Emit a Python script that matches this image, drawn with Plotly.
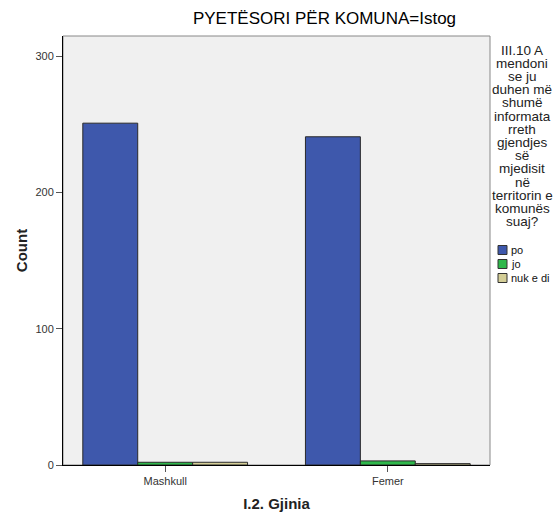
import plotly.graph_objects as go

categories = ["Mashkull", "Femer"]
series_names = ["po", "jo", "nuk e di"]
values_po = [251, 241]
values_jo = [2, 3]
values_nuk = [2, 1]
y_ticks = [0, 100, 200, 300]
legend_title_lines = ["III.10 A", "mendoni", "se ju", "duhen më", "shumë", "informata", "rreth",
                      "gjendjes", "së", "mjedisit", "në", "territorin e", "komunës", "suaj?"]

colors = ["#3E58AC", "#2EB84B", "#D4CE97"]
series_values = [values_po, values_jo, values_nuk]

W, H = 553, 513
ML, MR, MT, MB = 63, 63, 36, 48
PW, PH = W - ML - MR, H - MT - MB


def px_x(x):
    return (x - ML) / PW


def px_y(y):
    return 1 - (y - MT) / PH


fig = go.Figure()
for name, vals, col in zip(series_names, series_values, colors):
    fig.add_trace(go.Bar(
        x=categories, y=vals, name=name, showlegend=False,
        marker=dict(color=col, line=dict(color="#2a2a2a", width=1)),
    ))

annotations = []
for i, line in enumerate(legend_title_lines):
    annotations.append(dict(text=line, xref="paper", yref="paper",
                            x=px_x(522), y=px_y(50 + i * 13.2), xanchor="center", yanchor="middle",
                            showarrow=False, font=dict(size=13.5, color="#222222")))

shapes = [dict(type="rect", xref="paper", yref="paper", x0=0, x1=1, y0=0, y1=1,
               line=dict(color="#888888", width=1), fillcolor="rgba(0,0,0,0)", layer="below")]
for i, (name, col) in enumerate(zip(series_names, colors)):
    cy = 250 + i * 14
    shapes.append(dict(type="rect", xref="paper", yref="paper",
                       x0=px_x(498), x1=px_x(507), y0=px_y(cy - 4.5), y1=px_y(cy + 4.5),
                       fillcolor=col, line=dict(color="#333333", width=1)))
    annotations.append(dict(text=name, xref="paper", yref="paper", x=px_x(509), y=px_y(cy),
                            xanchor="left", yanchor="middle", showarrow=False,
                            font=dict(size=11, color="#111111")))

fig.update_layout(
    width=W, height=H,
    margin=dict(l=ML, r=MR, t=MT, b=MB, autoexpand=False),
    paper_bgcolor="white",
    plot_bgcolor="#F0F0F0",
    barmode="group",
    bargap=0.26,
    bargroupgap=0,
    font=dict(family="Liberation Sans, Arial, sans-serif", color="#333333", size=11),
    title=dict(text="PYETËSORI PËR KOMUNA=Istog", xref="paper", x=px_x(324.5), xanchor="center",
               yref="container", y=1 - 18 / H, yanchor="middle",
               font=dict(size=17, color="black", family="Liberation Sans, Arial, sans-serif")),
    showlegend=False,
    xaxis=dict(
        range=[-0.459, 1.459],
        automargin=False,
        showline=True, linecolor="black", linewidth=1,
        ticks="outside", ticklen=6, tickcolor="#555555",
        tickfont=dict(size=11, color="#333333"),
        title=dict(text="<b>I.2. Gjinia</b>", font=dict(size=15, color="#222222"), standoff=12),
    ),
    yaxis=dict(
        range=[0, 315],
        automargin=False,
        tickvals=y_ticks,
        showgrid=False, zeroline=False,
        showline=True, linecolor="black", linewidth=1,
        ticks="outside", ticklen=6, tickcolor="#555555",
        tickfont=dict(size=11, color="#333333"),
        title=dict(text="<b>Count</b>", font=dict(size=15, color="#222222"), standoff=4),
    ),
    shapes=shapes,
    annotations=annotations,
)

fig.write_html("out.html", config={"displayModeBar": False},
               post_script="document.body.style.margin='0';document.body.style.overflow='hidden';")
